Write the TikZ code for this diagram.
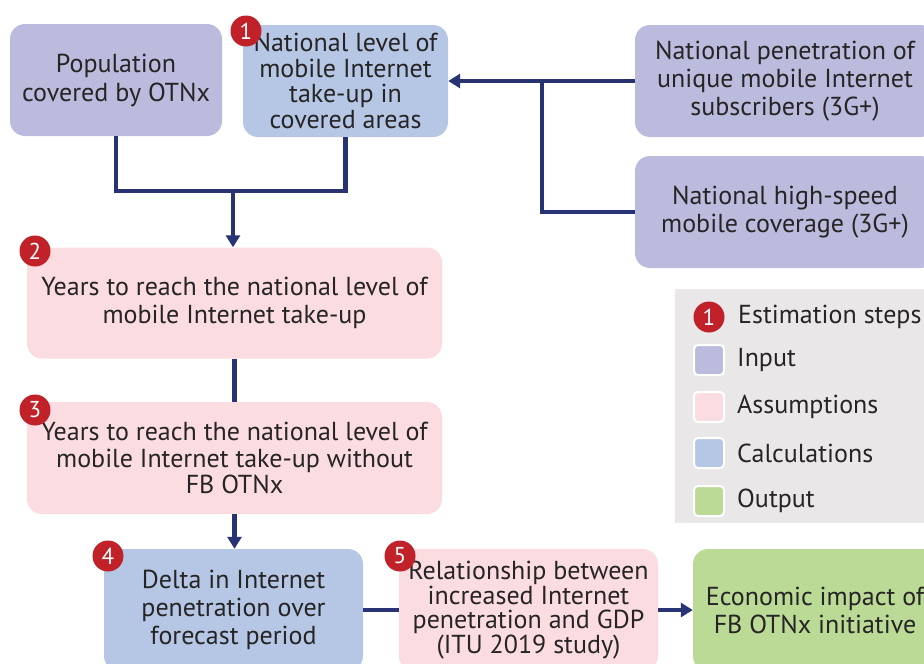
\documentclass[tikz,border=0pt]{standalone}
\usepackage{fontspec}
\setmainfont{PT Sans}
\usepackage{tikz}
\usetikzlibrary{arrows.meta}
\usetikzlibrary{positioning}
\definecolor{inputc}{RGB}{187,187,221}
\definecolor{calcc}{RGB}{181,199,228}
\definecolor{asmc}{RGB}{251,220,224}
\definecolor{outc}{RGB}{186,218,150}
\definecolor{legendc}{RGB}{233,231,232}
\definecolor{navy}{RGB}{40,51,116}
\definecolor{badgec}{RGB}{193,33,40}
\definecolor{txt}{RGB}{38,36,37}
\tikzstyle{box} = [rectangle, rounded corners=15pt, text=txt, align=center,
    inner sep=2pt, font=\fontsize{26}{28}\selectfont]
\tikzstyle{inp} = [box, fill=inputc]
\tikzstyle{calc} = [box, fill=calcc]
\tikzstyle{asm} = [box, fill=asmc]
\tikzstyle{outp} = [box, fill=outc]
\tikzstyle{badge} = [circle, fill=badgec, text=white, inner sep=0pt,
    minimum size=31pt, font=\fontsize{23}{23}\selectfont]
\tikzstyle{key} = [rectangle, rounded corners=4pt, draw=white, line width=2pt,
    minimum width=30pt, minimum height=30pt, inner sep=0pt]
\tikzstyle{keytext} = [text=txt, font=\fontsize{26}{28}\selectfont, inner sep=0pt]
\tikzstyle{link} = [draw=navy, line width=4.8pt]
\tikzstyle{arr} = [link, -{Triangle[length=12pt,width=14pt]}]

\begin{document}
\begin{tikzpicture}[x=1pt,y=-1pt]
  \useasboundingbox (0,0) rectangle (924,664);
  \clip (0,0) rectangle (924,664);

  % boxes
  \node[inp, minimum width=212pt, minimum height=112pt,
        font=\fontsize{26}{29}\selectfont] (pop) at (116,80)
       {Population\\covered by OTNx};
  \node[calc, minimum width=205pt, minimum height=112pt,
        font=\fontsize{26}{25.5}\selectfont] (level) at (345.5,81)
       {National level of\\mobile Internet\\take-up in\\covered areas};
  \node[inp, minimum width=300pt, minimum height=112pt] (pen) at (785,81)
       {National penetration of\\unique mobile Internet\\subscribers (3G+)};
  \node[inp, minimum width=300pt, minimum height=112pt] (cov) at (785,212)
       {National high-speed\\mobile coverage (3G+)};
  \node[asm, minimum width=415pt, minimum height=111pt] (reach) at (234.5,303)
       {Years to reach the national level of\\mobile Internet take-up};
  \node[asm, minimum width=415pt, minimum height=112pt,
        font=\fontsize{26}{26.5}\selectfont] (reachno) at (234.5,458)
       {Years to reach the national level of\\mobile Internet take-up without\\FB OTNx};
  \node[calc, minimum width=259pt, minimum height=122pt] (delta) at (233.5,610)
       {Delta in Internet\\penetration over\\forecast period};
  \node[asm, minimum width=259pt, minimum height=122pt,
        font=\fontsize{26}{24.5}\selectfont] (rel) at (528.5,610)
       {Relationship between\\increased Internet\\penetration and GDP\\(ITU 2019 study)};
  \node[outp, minimum width=244pt, minimum height=122pt] (impact) at (815,610)
       {Economic impact of\\FB OTNx initiative};

  % step numbers
  \node[badge] (b1) at (246,31) {1};
  \node[badge] (b2) at (35,251) {2};
  \node[badge] (b3) at (35,410) {3};
  \node[badge] (b4) at (108,556) {4};
  \node[badge] (b5) at (400,556) {5};

  % connectors
  \coordinate (join) at (233,191);
  \coordinate (branch) at (542,81);
  \draw[link] (pop.south) |- (join) -| (level.south);
  \draw[arr] (join) -- (join |- reach.north);
  \draw[arr] (pen.west) -- (level.east);
  \draw[link] (cov.west) -| (branch);
  \draw[link] (reach.south) -- (reachno.north);
  \draw[arr] (reachno.south) -- (reachno.south |- delta.north);
  \draw[link] (delta.east) -- (rel.west);
  \draw[arr] (rel.east) -- (impact.west);

  % legend
  \fill[legendc] (675,289) rectangle (930,523);
  \node[badge] (lb) at (709,317) {1};
  \node[keytext, anchor=west] (lbt) at (738,317) {Estimation steps};
  \node[key, fill=inputc] (k1) at (709,360) {};
  \node[keytext, right=12pt of k1] (k1t) {Input};
  \node[key, fill=asmc] (k2) at (709,407) {};
  \node[keytext, right=12pt of k2] (k2t) {Assumptions};
  \node[key, fill=calcc] (k3) at (709,453) {};
  \node[keytext, right=12pt of k3] (k3t) {Calculations};
  \node[key, fill=outc] (k4) at (709,501) {};
  \node[keytext, right=12pt of k4] (k4t) {Output};
\end{tikzpicture}
\end{document}
